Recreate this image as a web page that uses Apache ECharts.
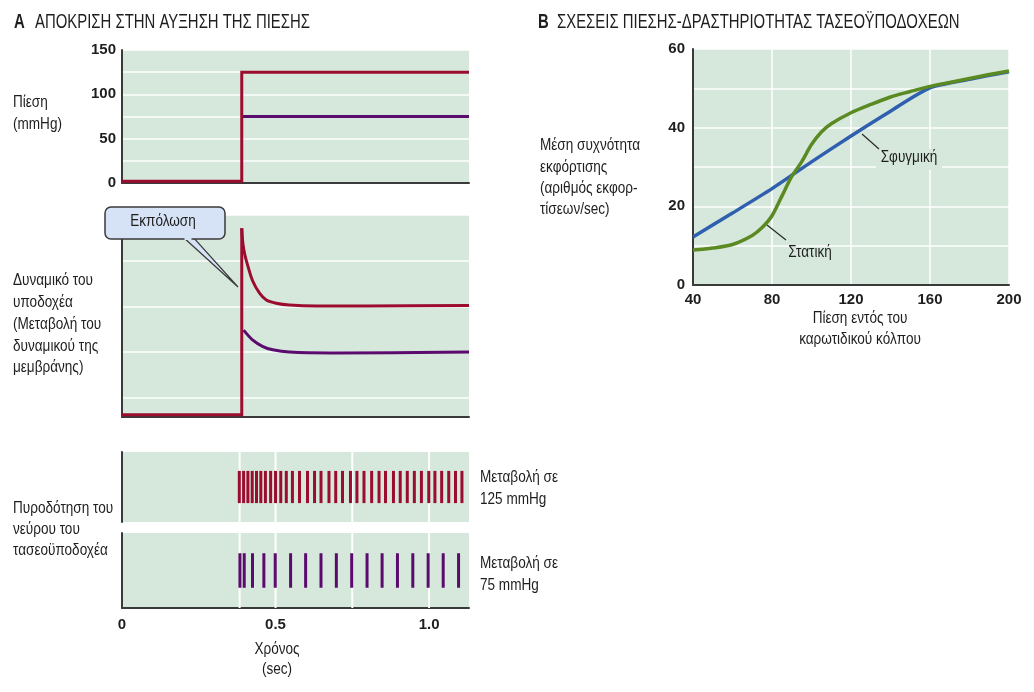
<!DOCTYPE html>
<html><head><meta charset="utf-8">
<script src="https://cdn.jsdelivr.net/npm/echarts@6/dist/echarts.min.js"></script>
<style>html,body{margin:0;padding:0;background:#fff}#c{width:1034px;height:692px}</style>
</head><body><div id="c"></div>
<script>
// ---- Panel A: pressure (mmHg) ----
const pressureRedT = [0, 0.39, 0.39, 1.13];
const pressureRedV = [2, 2, 125, 125];
const pressurePurT = [0.39, 1.13];
const pressurePurV = [75, 75];
const pressureTicks = [0, 50, 100, 150];

// ---- Panel A: receptor potential (arbitrary units) ----
const potRedStepT = [0, 0.39, 0.39];
const potRedStepV = [0.05, 0.05, 4.13];
const potRedDecayT = [0.39, 0.394, 0.40, 0.41, 0.426, 0.448, 0.47, 0.502, 0.545, 0.632, 0.794, 1.13];
const potRedDecayV = [4.13, 3.78, 3.55, 3.30, 2.97, 2.71, 2.56, 2.49, 2.45, 2.43, 2.43, 2.44];
const potPurT = [0.396, 0.426, 0.459, 0.491, 0.545, 0.686, 1.13];
const potPurV = [1.90, 1.68, 1.54, 1.47, 1.42, 1.40, 1.42];

// ---- Panel A: nerve firing (spike times, sec) ----
const spikes125 = [0.382,0.396,0.410,0.424,0.438,0.452,0.467,0.484,0.500,0.517,0.535,0.555,0.578,0.604,0.627,0.648,0.674,0.696,0.718,0.744,0.765,0.788,0.813,0.837,0.858,0.884,0.906,0.929,0.952,0.975,0.999,1.019,1.041,1.064,1.086,1.107];
const spikes75 = [0.384,0.398,0.425,0.462,0.499,0.549,0.598,0.648,0.698,0.748,0.798,0.847,0.897,0.947,0.997,1.046,1.096];
const spikeGridT = [0.383, 0.5, 0.75, 1.0];
const timeTicks = ['0', '0.5', '1.0'];

// ---- Panel B: baroreceptor pressure-activity ----
const bluePress = [40, 60, 80, 100, 120, 140, 160, 180, 200];
const blueRate  = [12.2, 18.3, 24.5, 31.3, 37.9, 44.2, 50.1, 52.3, 54.2];
const greenPress = [40, 50, 60, 70, 75, 80, 85, 90, 95, 100, 105, 110, 120, 130, 140, 150, 160, 170, 180, 190, 200];
const greenRate  = [8.9, 9.4, 10.3, 12.6, 14.6, 17.6, 22.6, 27.6, 31.3, 35.7, 38.9, 41.0, 43.8, 45.9, 47.8, 49.2, 50.5, 51.5, 52.5, 53.5, 54.4];

const F = "'Liberation Sans',Arial,sans-serif";
const BG = '#d6e8db';
const RED = '#9b0c2f';
const PUR = '#5a0b6d';
const BLUE = '#2f5fae';
const GREEN = '#5b8a22';
const AX = '#3a3a3a';

// horizontal condensation so the regular sans matches the condensed type of the original
const mctx = document.createElement('canvas').getContext('2d');
mctx.font = '20px ' + F;
const COND_T = Math.min(1, 275 / mctx.measureText('ΑΠΟΚΡΙΣΗ ΣΤΗΝ ΑΥΞΗΣΗ ΤΗΣ ΠΙΕΣΗΣ').width);
mctx.font = '16px ' + F;
const COND_B = Math.min(1, 80 / mctx.measureText('Δυναμικό του').width);

const zip = (a, b) => a.map((v, i) => [v, b[i]]);

const chart = echarts.init(document.getElementById('c'), null, {renderer: 'canvas'});

const baseGrid = {show: true, backgroundColor: BG, borderWidth: 0, containLabel: false};
const grids = [
  Object.assign({left: 122, top: 50, width: 347, height: 133}, baseGrid),
  Object.assign({left: 122, top: 215, width: 347, height: 202}, baseGrid),
  Object.assign({left: 122, top: 452, width: 347, height: 70}, baseGrid),
  Object.assign({left: 122, top: 533, width: 347, height: 75}, baseGrid),
  Object.assign({left: 693, top: 49, width: 316, height: 236}, baseGrid)
];

const axLine = {show: true, onZero: false, lineStyle: {color: AX, width: 2}};
const noLine = {show: false, onZero: false};
const lbl = {color: '#1e1e1e', fontFamily: F, fontSize: 15, fontWeight: 'bold'};
const white = {show: true, lineStyle: {color: '#ffffff', width: 1.5}};

const timeAxis = (gi, line, labels) => ({
  type: 'value', gridIndex: gi, min: 0, max: 1.13, interval: 0.5,
  axisLine: line ? axLine : noLine, axisTick: {show: false}, splitLine: {show: false},
  axisLabel: labels ? Object.assign({margin: 9, formatter: (v) => { const i = Math.round(v / 0.5); return Math.abs(v - i * 0.5) < 1e-6 && i < timeTicks.length ? timeTicks[i] : ''; }}, lbl) : {show: false}
});

const option = {
  animation: false,
  backgroundColor: '#ffffff',
  grid: grids,
  xAxis: [
    timeAxis(0, true, false),
    timeAxis(1, true, false),
    timeAxis(2, false, false),
    timeAxis(3, true, true),
    {type: 'value', gridIndex: 4, min: 40, max: 200, interval: 40,
     axisLine: axLine, axisTick: {show: false}, splitLine: white,
     axisLabel: Object.assign({margin: 7}, lbl)}
  ],
  yAxis: [
    {type: 'value', gridIndex: 0, min: 0, max: 150, interval: 25,
     axisLine: axLine, axisTick: {show: false}, splitLine: white,
     axisLabel: Object.assign({margin: 6, formatter: (v) => pressureTicks.indexOf(v) >= 0 ? String(v) : ''}, lbl)},
    {type: 'value', gridIndex: 1, min: 0, max: 4.42,
     axisLine: axLine, axisTick: {show: false}, splitLine: {show: false}, axisLabel: {show: false}},
    {type: 'value', gridIndex: 1, min: 0, max: 4.42, interval: 1, inverse: true, position: 'right',
     axisLine: noLine, axisTick: {show: false}, splitLine: white, axisLabel: {show: false}},
    {type: 'value', gridIndex: 2, min: 0, max: 1,
     axisLine: axLine, axisTick: {show: false}, splitLine: {show: false}, axisLabel: {show: false}},
    {type: 'value', gridIndex: 3, min: 0, max: 1,
     axisLine: axLine, axisTick: {show: false}, splitLine: {show: false}, axisLabel: {show: false}},
    {type: 'value', gridIndex: 4, min: 0, max: 60, interval: 10,
     axisLine: axLine, axisTick: {show: false}, splitLine: white,
     axisLabel: Object.assign({margin: 8, formatter: (v) => v % 20 === 0 ? String(v) : ''}, lbl)}
  ],
  series: []
};

const line = (xi, yi, data, color, width, smooth, z) => ({
  type: 'line', xAxisIndex: xi, yAxisIndex: yi, data: data, showSymbol: false, symbol: 'none',
  smooth: smooth || false, z: z || 3, silent: true,
  lineStyle: {color: color, width: width, cap: 'butt', join: 'miter'}
});

// pressure
option.series.push(line(0, 0, zip(pressurePurT, pressurePurV), PUR, 3));
option.series.push(line(0, 0, zip(pressureRedT, pressureRedV), RED, 3));
// potential
option.series.push(line(1, 1, zip(potPurT, potPurV), PUR, 3, 0.3));
option.series.push(line(1, 1, zip(potRedDecayT, potRedDecayV), RED, 3, 0.3));
option.series.push(line(1, 1, zip(potRedStepT, potRedStepV), RED, 3));

// spike panels: vertical grid lines + spikes
const vgrid = (gi, yi) => ({
  type: 'custom', xAxisIndex: gi, yAxisIndex: yi, data: spikeGridT.map(t => [t]), z: 1, silent: true,
  renderItem: (params, api) => {
    const a = api.coord([api.value(0), 0]);
    const b = api.coord([api.value(0), 1]);
    return {type: 'line', shape: {x1: a[0], y1: a[1], x2: b[0], y2: b[1]}, style: {stroke: '#ffffff', lineWidth: 2}};
  }
});
const spikeSeries = (gi, yi, times, color) => ({
  type: 'custom', xAxisIndex: gi, yAxisIndex: yi, data: times.map(t => [t]), z: 3, silent: true,
  renderItem: (params, api) => {
    const lo = api.coord([api.value(0), 0.27]);
    const hi = api.coord([api.value(0), 0.73]);
    return {type: 'rect', shape: {x: lo[0] - 1.5, y: hi[1], width: 3, height: lo[1] - hi[1]}, style: {fill: color}};
  }
});
option.series.push(vgrid(2, 3));
option.series.push(vgrid(3, 4));
option.series.push(spikeSeries(2, 3, spikes125, RED));
option.series.push(spikeSeries(3, 4, spikes75, PUR));

// panel B
option.series.push(line(4, 5, zip(bluePress, blueRate), BLUE, 3.5, 0.25, 3));
option.series.push(line(4, 5, zip(greenPress, greenRate), GREEN, 3.5, 0.3, 4));

// ---- text & annotations ----
const T = (x, y, text, opt) => {
  opt = opt || {};
  const align = opt.align || 'left';
  return {type: 'text', x: x, y: y, scaleX: opt.cond || COND_B, scaleY: 1, z: 100, silent: true,
    style: {x: 0, y: 0, text: text, fill: opt.color || '#1e1e1e',
      font: (opt.weight || 'normal') + ' ' + (opt.size || 16) + 'px ' + F,
      textAlign: align, align: align, textVerticalAlign: 'middle', verticalAlign: 'middle'}};
};
const lines = (x, y0, dy, arr, opt) => arr.map((s, i) => T(x, y0 + i * dy, s, opt));

const g = [];
g.push(T(14, 22, 'A', {size: 20, weight: 'bold', cond: COND_T}));
g.push(T(35, 22, 'ΑΠΟΚΡΙΣΗ ΣΤΗΝ ΑΥΞΗΣΗ ΤΗΣ ΠΙΕΣΗΣ', {size: 20, cond: COND_T}));
g.push(T(538, 22, 'B', {size: 20, weight: 'bold', cond: COND_T}));
g.push(T(557, 22, 'ΣΧΕΣΕΙΣ ΠΙΕΣΗΣ-ΔΡΑΣΤΗΡΙΟΤΗΤΑΣ ΤΑΣΕΟΫΠΟΔΟΧΕΩΝ', {size: 20, cond: COND_T}));

g.push(...lines(13, 103, 21.5, ['Πίεση', '(mmHg)']));
g.push(...lines(13, 281, 21.7, ['Δυναμικό του', 'υποδοχέα', '(Μεταβολή του', 'δυναμικού της', 'μεμβράνης)']));
g.push(...lines(13, 509, 21, ['Πυροδότηση του', 'νεύρου του', 'τασεοϋποδοχέα']));
g.push(...lines(480, 478, 21.5, ['Μεταβολή σε', '125 mmHg']));
g.push(...lines(480, 564, 21.5, ['Μεταβολή σε', '75 mmHg']));
g.push(...lines(277, 650, 20, ['Χρόνος', '(sec)'], {align: 'center'}));

g.push(...lines(540, 146, 21.3, ['Μέση συχνότητα', 'εκφόρτισης', '(αριθμός εκφορ-', 'τίσεων/sec)']));
g.push(...lines(860, 319, 21, ['Πίεση εντός του', 'καρωτιδικού κόλπου'], {align: 'center'}));

// callout
g.push({type: 'polygon', z: 99, silent: true, shape: {points: [[183, 237], [193, 237], [238, 287]]},
  style: {fill: '#d6e2f5', stroke: '#3a3a3a', lineWidth: 1.2}});
g.push({type: 'rect', z: 99, silent: true, shape: {x: 105, y: 207, width: 120, height: 32, r: 6},
  style: {fill: '#d6e2f5', stroke: '#3a3a3a', lineWidth: 1.5}});
g.push({type: 'rect', z: 99, silent: true, shape: {x: 184.5, y: 236, width: 7, height: 4},
  style: {fill: '#d6e2f5'}});
g.push(T(163, 222, 'Εκπόλωση', {align: 'center'}));

// B labels
g.push({type: 'rect', z: 98, silent: true, shape: {x: 876, y: 149, width: 66, height: 21}, style: {fill: BG}});
g.push({type: 'line', z: 99, silent: true, shape: {x1: 862, y1: 134, x2: 879, y2: 149}, style: {stroke: '#2a2a2a', lineWidth: 1.2}});
g.push(T(909, 158, 'Σφυγμική', {align: 'center'}));
g.push({type: 'line', z: 99, silent: true, shape: {x1: 767, y1: 225, x2: 786, y2: 240}, style: {stroke: '#2a2a2a', lineWidth: 1.2}});
g.push(T(810, 253, 'Στατική', {align: 'center'}));

option.graphic = {elements: g};
chart.setOption(option);
</script>
</body></html>
